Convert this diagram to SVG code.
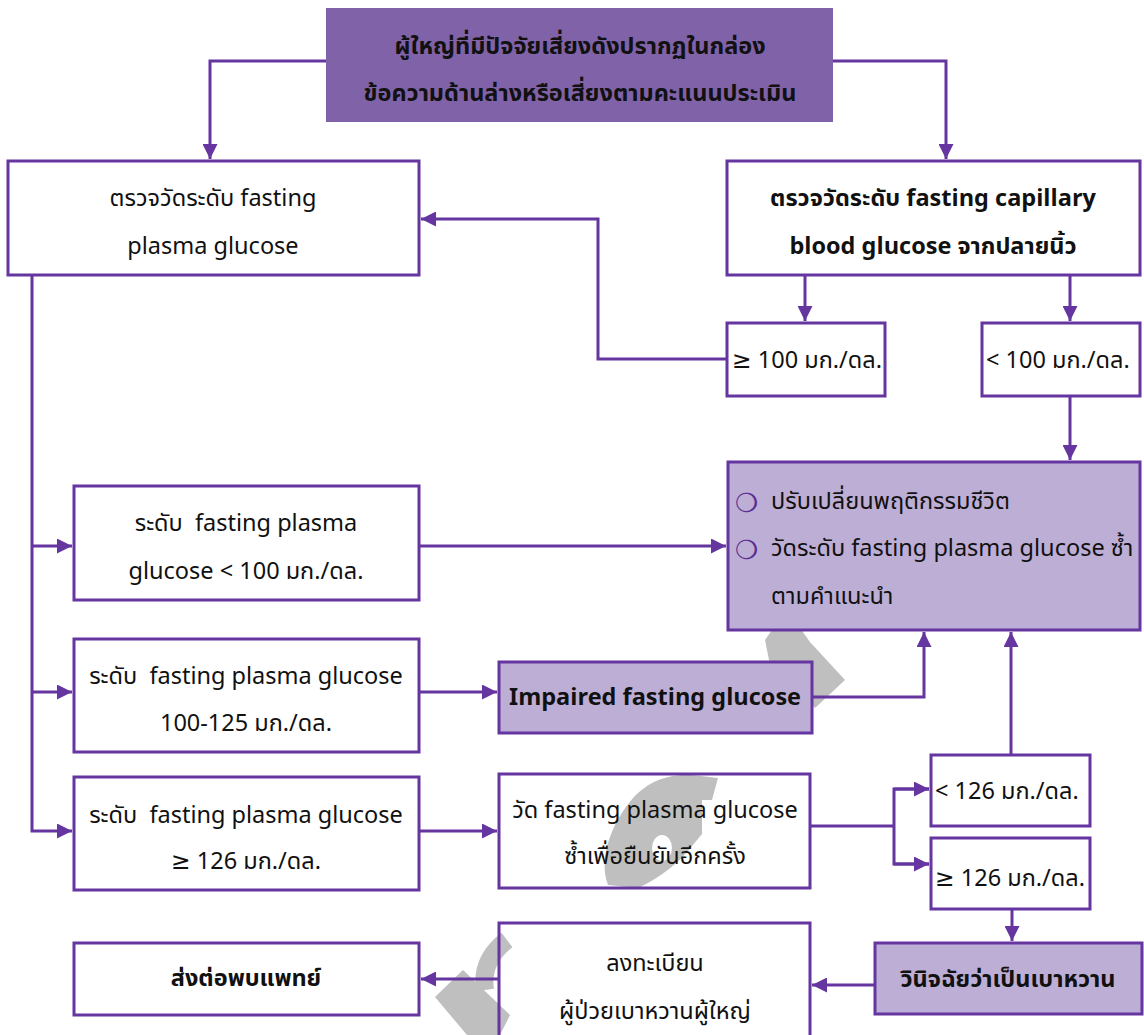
<svg xmlns="http://www.w3.org/2000/svg" width="1144" height="1035" viewBox="0 0 1144 1035">
<style>
.box{fill:none;stroke:#6535a0;stroke-width:3}
.dark{fill:#8062a9;stroke:none}
.lite{fill:#bdaed6;stroke:#6535a0;stroke-width:3}
.t{font-family:"Noto Sans Thai","Noto Sans","DejaVu Sans",sans-serif;font-size:23.5px;fill:#111;dominant-baseline:central}
.c{text-anchor:middle}
.b{font-weight:bold}
.ln{fill:none;stroke:#6535a0;stroke-width:3}
.wm{fill:#bfbfbf}
.bul{fill:#5a2d91;font-family:"DejaVu Sans",sans-serif;font-size:26px;dominant-baseline:central}
</style>
<defs>
<marker id="ah" viewBox="0 0 10 10" refX="10" refY="5" markerWidth="5" markerHeight="5" markerUnits="strokeWidth" orient="auto">
<path d="M0,0 L10,5 L0,10 Z" fill="#6535a0"/>
</marker>
</defs>
<rect width="1144" height="1035" fill="#fff"/>
<g id="watermark">
<polygon class="wm" points="765,640 772,630 800,628 810,642 845,680 815,708 770,665"/>
<path class="wm" fill-rule="evenodd" d="M608,885 C598,858 612,822 633,798 C650,780 668,774 692,775 L718,778 L712,800 L702,800 L702,834 L692,846 C680,862 660,878 638,888 Z M652,848 a10,13 0 1,0 20,0 a10,13 0 1,0 -20,0 Z"/>
<path d="M507,940 C490,953 482,970 485,990" fill="none" stroke="#bfbfbf" stroke-width="18"/>
<polygon class="wm" points="435,997 463,970 510,1015 500,1035 467,1035"/>
</g>
<g id="connectors">
<polyline class="ln" points="326,61 210,61 210,159" marker-end="url(#ah)"/>
<polyline class="ln" points="833,61 946,61 946,159" marker-end="url(#ah)"/>
<line class="ln" x1="805" y1="275" x2="805" y2="321" marker-end="url(#ah)"/>
<line class="ln" x1="1070" y1="275" x2="1070" y2="321" marker-end="url(#ah)"/>
<polyline class="ln" points="727,359 598,359 598,219 421,219" marker-end="url(#ah)"/>
<line class="ln" x1="1070" y1="396" x2="1070" y2="460" marker-end="url(#ah)"/>
<polyline class="ln" points="32,275 32,831 72,831" marker-end="url(#ah)"/>
<line class="ln" x1="32" y1="546" x2="72" y2="546" marker-end="url(#ah)"/>
<line class="ln" x1="32" y1="692" x2="72" y2="692" marker-end="url(#ah)"/>
<line class="ln" x1="419" y1="546" x2="726" y2="546" marker-end="url(#ah)"/>
<line class="ln" x1="419" y1="692" x2="497" y2="692" marker-end="url(#ah)"/>
<polyline class="ln" points="812,697 924,697 924,632" marker-end="url(#ah)"/>
<line class="ln" x1="1011" y1="755" x2="1011" y2="632" marker-end="url(#ah)"/>
<line class="ln" x1="419" y1="831" x2="497" y2="831" marker-end="url(#ah)"/>
<line class="ln" x1="810" y1="826" x2="894" y2="826"/>
<polyline class="ln" points="929,789 894,789 894,864 929,864"/>
<line class="ln" x1="894" y1="789" x2="929" y2="789" marker-end="url(#ah)"/>
<line class="ln" x1="894" y1="864" x2="929" y2="864" marker-end="url(#ah)"/>
<line class="ln" x1="1012" y1="909" x2="1012" y2="941" marker-end="url(#ah)"/>
<line class="ln" x1="875" y1="985" x2="812" y2="985" marker-end="url(#ah)"/>
<line class="ln" x1="499" y1="979" x2="421" y2="979" marker-end="url(#ah)"/>
</g>
<g id="top">
<rect class="dark" x="326" y="8" width="507" height="114"/>
<text class="t c b" x="580" y="47">ผู้ใหญ่ที่มีปัจจัยเสี่ยงดังปรากฏในกล่อง</text>
<text class="t c b" x="580" y="94">ข้อความด้านล่างหรือเสี่ยงตามคะแนนประเมิน</text>
</g>
<g id="fpg">
<rect class="box" x="8" y="161" width="411" height="114"/>
<text class="t c" x="213" y="199">ตรวจวัดระดับ fasting</text>
<text class="t c" x="213" y="247">plasma glucose</text>
</g>
<g id="capillary">
<rect class="box" x="727" y="161" width="413" height="114"/>
<text class="t c b" x="933" y="199">ตรวจวัดระดับ fasting capillary</text>
<text class="t c b" x="933" y="247">blood glucose จากปลายนิ้ว</text>
</g>
<g id="ge100">
<rect class="box" x="727" y="323" width="158" height="73"/>
<text class="t" x="732" y="361">≥ 100 มก./ดล.</text>
</g>
<g id="lt100">
<rect class="box" x="982" y="323" width="158" height="73"/>
<text class="t" x="986" y="361">&lt; 100 มก./ดล.</text>
</g>
<g id="recommend">
<rect class="lite" x="728" y="462" width="412" height="168"/>
<text class="bul" x="735" y="503">❍</text>
<text class="t" x="771" y="502">ปรับเปลี่ยนพฤติกรรมชีวิต</text>
<text class="bul" x="735" y="550">❍</text>
<text class="t" x="771" y="549">วัดระดับ fasting plasma glucose ซ้ำ</text>
<text class="t" x="771" y="597">ตามคำแนะนำ</text>
</g>
<g id="lt100fpg">
<rect class="box" x="74" y="486" width="345" height="114"/>
<text class="t c" x="246" y="524">ระดับ&#160; fasting plasma</text>
<text class="t c" x="246" y="572">glucose &lt; 100 มก./ดล.</text>
</g>
<g id="ifgrange">
<rect class="box" x="74" y="639" width="345" height="113"/>
<text class="t c" x="246" y="677">ระดับ&#160; fasting plasma glucose</text>
<text class="t c" x="246" y="724">100-125 มก./ดล.</text>
</g>
<g id="ifg">
<rect class="lite" x="499" y="662" width="313" height="71"/>
<text class="t c b" x="655" y="698">Impaired fasting glucose</text>
</g>
<g id="ge126fpg">
<rect class="box" x="74" y="777" width="345" height="113"/>
<text class="t c" x="246" y="816">ระดับ&#160; fasting plasma glucose</text>
<text class="t c" x="246" y="862">≥ 126 มก./ดล.</text>
</g>
<g id="confirm">
<rect class="box" x="499" y="774" width="311" height="114"/>
<text class="t c" x="655" y="811">วัด fasting plasma glucose</text>
<text class="t c" x="655" y="857">ซ้ำเพื่อยืนยันอีกครั้ง</text>
</g>
<g id="lt126">
<rect class="box" x="931" y="755" width="159" height="71"/>
<text class="t" x="935" y="792">&lt; 126 มก./ดล.</text>
</g>
<g id="ge126">
<rect class="box" x="931" y="838" width="159" height="71"/>
<text class="t" x="935" y="879">≥ 126 มก./ดล.</text>
</g>
<g id="diagnose">
<rect class="lite" x="875" y="943" width="267" height="71"/>
<text class="t c b" x="1008" y="980">วินิจฉัยว่าเป็นเบาหวาน</text>
</g>
<g id="register">
<rect class="box" x="499" y="923" width="311" height="130"/>
<text class="t c" x="655" y="964">ลงทะเบียน</text>
<text class="t c" x="655" y="1012">ผู้ป่วยเบาหวานผู้ใหญ่</text>
</g>
<g id="refer">
<rect class="box" x="74" y="943" width="345" height="72"/>
<text class="t c b" x="246" y="979">ส่งต่อพบแพทย์</text>
</g>
</svg>
